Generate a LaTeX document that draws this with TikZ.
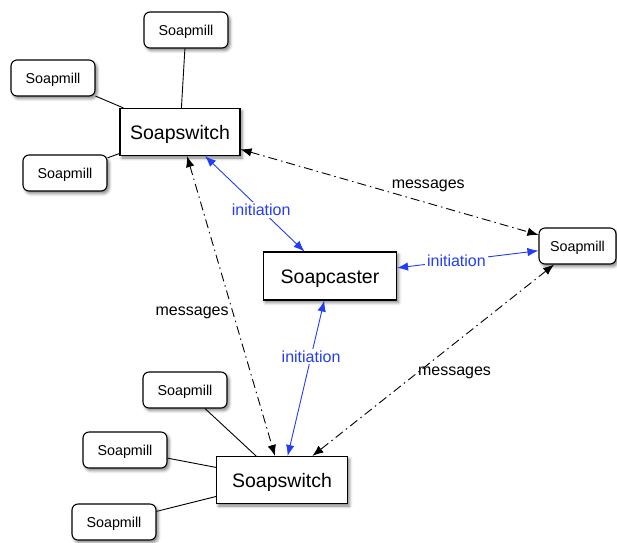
\documentclass[tikz,border=0pt]{standalone}
\usepackage{fontspec}
\setmainfont{Liberation Sans}
\usetikzlibrary{arrows.meta,shadows.blur}
\definecolor{initblue}{RGB}{35,60,250}
\tikzset{
  box/.style={draw, line width=1.1pt, fill=white, inner sep=0pt,
    blur shadow={shadow xshift=2pt, shadow yshift=-2.5pt, shadow blur radius=3pt, shadow opacity=50}},
  switchbox/.style={box, minimum height=47pt, text height=14pt, text depth=0pt,
    font=\fontsize{19.5}{23}\selectfont},
  millbox/.style={box, rounded corners=6pt, minimum width=84pt, minimum height=36pt,
    text height=10.2pt, text depth=0pt, font=\fontsize{14.3}{17}\selectfont},
  link/.style={line width=0.9pt},
  msg/.style={line width=0.9pt, dash pattern=on 9pt off 4pt on 1.5pt off 4pt,
    {Latex[length=11pt,width=8.5pt]}-{Latex[length=11pt,width=8.5pt]}},
  init/.style={initblue, line width=0.9pt,
    {Latex[length=11pt,width=8.5pt]}-{Latex[length=11pt,width=8.5pt]}},
  lbl/.style={font=\fontsize{16}{19}\selectfont, inner sep=2pt},
  initlbl/.style={lbl, fill=white, text=initblue}
}
\begin{document}
\begin{tikzpicture}[x=1pt, y=-1pt]
\useasboundingbox (0,0) rectangle (617,542);

% main boxes
\node[switchbox, minimum width=120pt] (swA) at (180,132) {Soapswitch};
\node[switchbox, minimum width=131pt] (swB) at (282,480) {Soapswitch};
\node[switchbox, minimum width=133pt, minimum height=48pt] (caster) at (330,276) {Soapcaster};

% mills around the upper switch
\node[millbox] (mA1) at (186,30) {Soapmill};
\node[millbox] (mA2) at (53,78) {Soapmill};
\node[millbox] (mA3) at (65,173) {Soapmill};

% mills around the lower switch
\node[millbox] (mB1) at (185,390) {Soapmill};
\node[millbox] (mB2) at (125,450) {Soapmill};
\node[millbox] (mB3) at (114,522) {Soapmill};

% lone mill on the right
\node[millbox, minimum width=77pt] (mR) at (577.5,246) {Soapmill};

% plain attachments
\draw[link] (mA1) -- (swA);
\draw[link] (mA2) -- (swA);
\draw[link] (mA3) -- (swA);
\draw[link] (mB1) -- (swB);
\draw[link] (mB2) -- (swB);
\draw[link] (mB3) -- (swB);

% message channels
\draw[msg] (swA) -- node[lbl, pos=0.63, yshift=17.5pt] {messages} (mR);
\draw[msg] (swA) -- node[lbl, pos=0.524, xshift=-41pt] {messages} (swB);
\draw[msg] (mR) -- node[lbl, pos=0.567, xshift=37.5pt] {messages} (swB);

% initiation links
\draw[init] (swA) -- node[initlbl, pos=0.565] {initiation} (caster);
\draw[init] (caster) -- node[initlbl, pos=0.42] {initiation} (mR);
\draw[init] (caster) -- node[initlbl, pos=0.36] {initiation} (swB);
\end{tikzpicture}
\end{document}
